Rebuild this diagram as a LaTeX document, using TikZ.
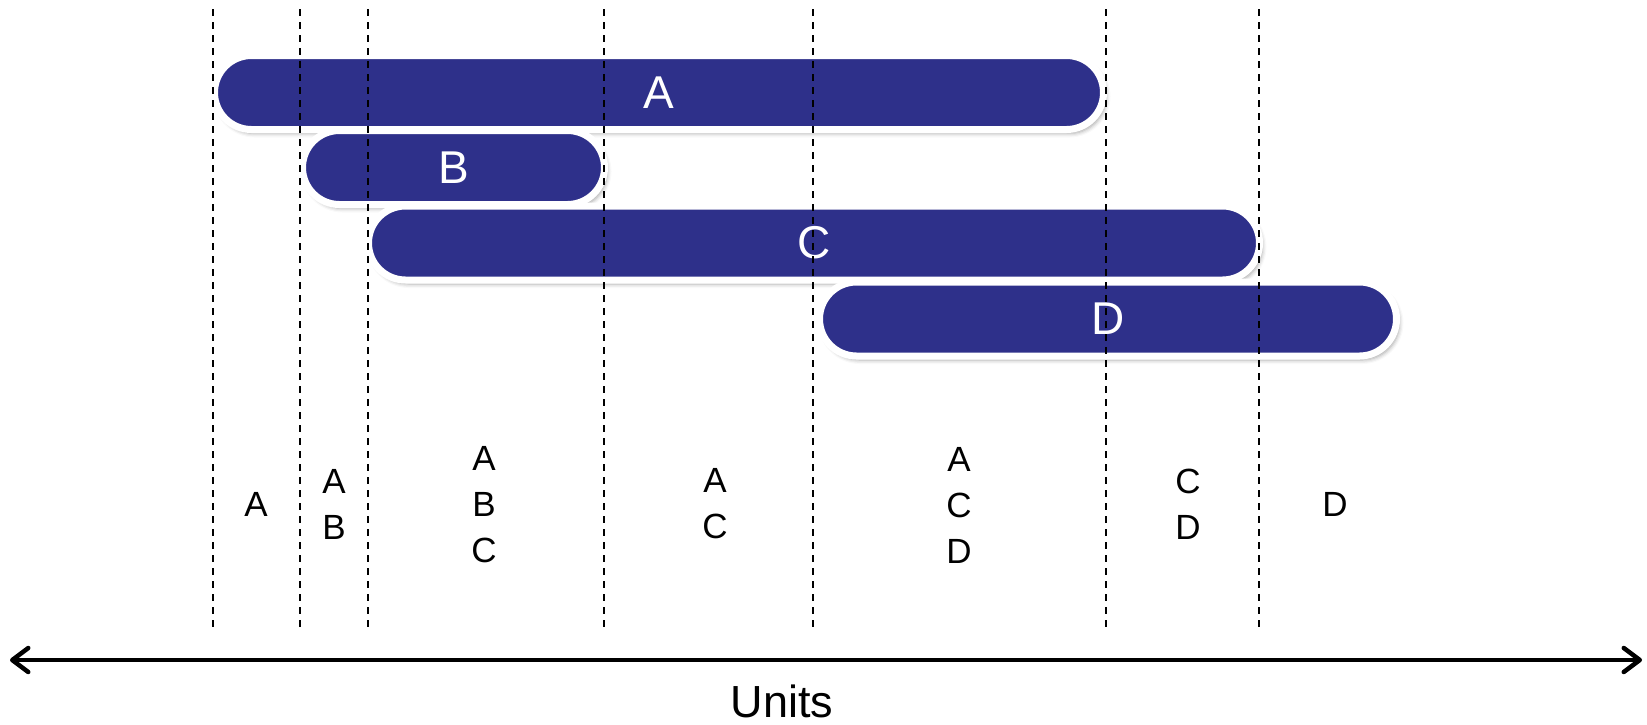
\documentclass[tikz,border=0pt]{standalone}
\usepackage{fontspec}
\setmainfont{Liberation Sans}
\usetikzlibrary{shadows,shadows.blur,arrows.meta}
\definecolor{barblue}{RGB}{46,48,138}
\begin{document}
\begin{tikzpicture}[x=1pt,y=-1pt,
  bar/.style={draw=white, line width=7pt, fill=barblue, rounded corners=37pt,
    inner sep=0pt, minimum height=74pt, text=white,
    font=\fontsize{46}{50}\selectfont,
    blur shadow={shadow xshift=3pt, shadow yshift=-4pt, shadow blur radius=4pt, shadow opacity=35}},
  divider/.style={black, line width=2pt, dash pattern=on 7pt off 6pt},
  colnode/.style={align=center, font=\fontsize{35}{46}\selectfont, inner sep=0pt},
  axis/.style={black, line width=4.5pt, line cap=round,
    {Straight Barb[length=16pt,width=24pt,line cap=round,line join=round]}-{Straight Barb[length=16pt,width=24pt,line cap=round,line join=round]}}
]
\useasboundingbox (0,0) rectangle (1647,724);
% bars
\node[bar, minimum width=889pt] (A) at (659,92.5) {A};
\node[bar, minimum width=302pt] (B) at (453.5,167.5) {B};
\node[bar, minimum width=891pt] (C) at (814,243) {C};
\node[bar, minimum width=577pt] (D) at (1108,319) {D};
% dividers
\foreach \i/\x in {1/213,2/300,3/368,4/604,5/813,6/1106,7/1259}{
  \coordinate (t\i) at (\x,9);
  \coordinate (b\i) at (\x,628);
  \draw[divider] (t\i) -- (b\i);
}
% column labels
\node[colnode] (c1) at (256,504) {A};
\node[colnode] (c2) at (334,504) {A\\B};
\node[colnode] (c3) at (484,505) {A\\B\\C};
\node[colnode] (c4) at (715,504) {A\\C};
\node[colnode] (c5) at (959,505) {A\\C\\D};
\node[colnode] (c6) at (1188,504) {C\\D};
\node[colnode] (c7) at (1335,504) {D};
% axis
\coordinate (axL) at (10,660);
\coordinate (axR) at (1642,660);
\draw[axis] (axL) -- (axR);
\node[font=\fontsize{45}{50}\selectfont, inner sep=0pt] (units) at (782,701) {Units};
\end{tikzpicture}
\end{document}
